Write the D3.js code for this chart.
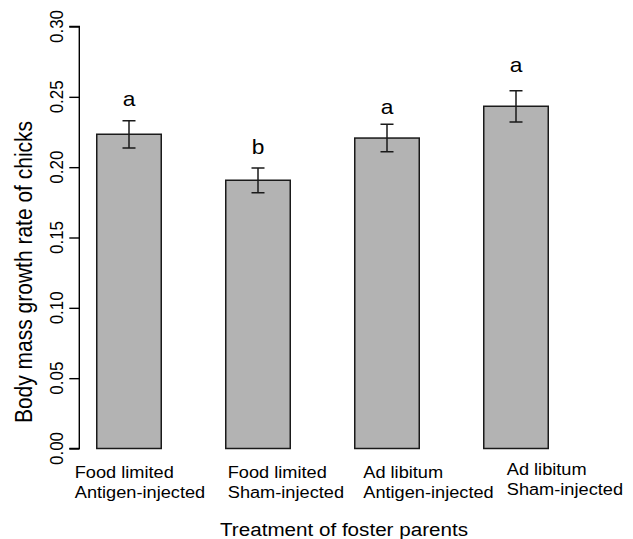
<!DOCTYPE html>
<html>
<head>
<meta charset="utf-8">
<script src="https://cdn.jsdelivr.net/npm/d3@7"></script>
<style>
  html, body { margin: 0; padding: 0; background: #fff; }
  svg { display: block; }
  text { font-family: "Liberation Sans", Arial, sans-serif; fill: #000; }
</style>
</head>
<body>
<svg id="chart" width="633" height="539"></svg>
<script>
// ---- data ----
const categories = ["FL-Antigen", "FL-Sham", "AL-Antigen", "AL-Sham"];
const labelLine1 = ["Food limited", "Food limited", "Ad libitum", "Ad libitum"];
const labelLine2 = ["Antigen-injected", "Sham-injected", "Antigen-injected", "Sham-injected"];
const means = [0.2234, 0.1907, 0.2207, 0.2433];
const errLow = [0.2136, 0.1818, 0.2110, 0.2321];
const errHigh = [0.2330, 0.1994, 0.2305, 0.2544];
const letters = ["a", "b", "a", "a"];
const letterPos = [0.2437, 0.2091, 0.2379, 0.2680];
const yTicks = [0.00, 0.05, 0.10, 0.15, 0.20, 0.25, 0.30];
const yTitle = "Body mass growth rate of chicks";
const xTitle = "Treatment of foster parents";

// ---- layout ----
const SX = 1.11; // horizontal stretch of the original image
const labelOffset = [[-22, 0], [2, 0], [8.5, 0], [23, -2.5]];

const svg = d3.select("#chart");

const y = d3.scaleLinear().domain([0, 0.30]).range([448.5, 26.5]);
const x = d3.scaleBand().domain(categories).range([64.5, 580.5])
  .paddingInner(0.5).paddingOuter(0.25);

// y axis
const axisX = 79.3;
const gAxis = svg.append("g").attr("transform", `translate(${axisX},0)`);
gAxis.call(d3.axisLeft(y).tickValues(yTicks).tickSize(10).tickFormat(""));
gAxis.select(".domain").attr("d", `M-10,${y(0)}H0V${y(0.30)}H-10`)
  .attr("stroke", "#000").attr("stroke-width", 1.4).attr("fill", "none");
gAxis.selectAll(".tick line").attr("stroke", "#000").attr("stroke-width", 1.4);

svg.append("g").selectAll("text").data(yTicks).join("text")
  .attr("transform", d => `translate(62.7,${y(d)}) scale(${SX},1) rotate(-90)`)
  .attr("text-anchor", "middle")
  .attr("font-size", 17)
  .text(d => d3.format(".2f")(d));

// bars
const idx = d3.range(categories.length);
svg.append("g").selectAll("rect").data(idx).join("rect")
  .attr("x", i => x(categories[i]))
  .attr("width", x.bandwidth())
  .attr("y", i => y(means[i]))
  .attr("height", i => y(0) - y(means[i]))
  .attr("fill", "#b3b3b3")
  .attr("stroke", "#1a1a1a")
  .attr("stroke-width", 1.5);

// error bars
const gErr = svg.append("g").attr("stroke", "#1a1a1a").attr("stroke-width", 1.5).attr("fill", "none");
idx.forEach(i => {
  const cx = x(categories[i]) + x.bandwidth() / 2;
  gErr.append("path")
    .attr("d", `M${cx},${y(errLow[i])}V${y(errHigh[i])}` +
      `M${cx - 6.5},${y(errHigh[i])}H${cx + 6.5}` +
      `M${cx - 6.5},${y(errLow[i])}H${cx + 6.5}`);
});

// letters
svg.append("g").selectAll("text").data(idx).join("text")
  .attr("transform", i => `translate(${x(categories[i]) + x.bandwidth() / 2},${y(letterPos[i])}) scale(${SX},1)`)
  .attr("text-anchor", "middle")
  .attr("font-size", 20.5)
  .text(i => letters[i]);

// category labels
const gLab = svg.append("g");
idx.forEach(i => {
  const lx = x(categories[i]) + labelOffset[i][0];
  const ly = 477.5 + labelOffset[i][1];
  gLab.append("text")
    .attr("transform", `translate(${lx},${ly}) scale(${SX},1)`)
    .attr("font-size", 16.4)
    .text(labelLine1[i]);
  gLab.append("text")
    .attr("transform", `translate(${lx},${ly + 20}) scale(${SX},1)`)
    .attr("font-size", 16.4)
    .text(labelLine2[i]);
});

// axis titles
svg.append("text")
  .attr("transform", `translate(31.5,272) scale(${SX},1) rotate(-90)`)
  .attr("text-anchor", "middle")
  .attr("font-size", 21)
  .text(yTitle);

svg.append("text")
  .attr("transform", `translate(344,536) scale(${SX},1)`)
  .attr("text-anchor", "middle")
  .attr("font-size", 18.6)
  .text(xTitle);
</script>
</body>
</html>
